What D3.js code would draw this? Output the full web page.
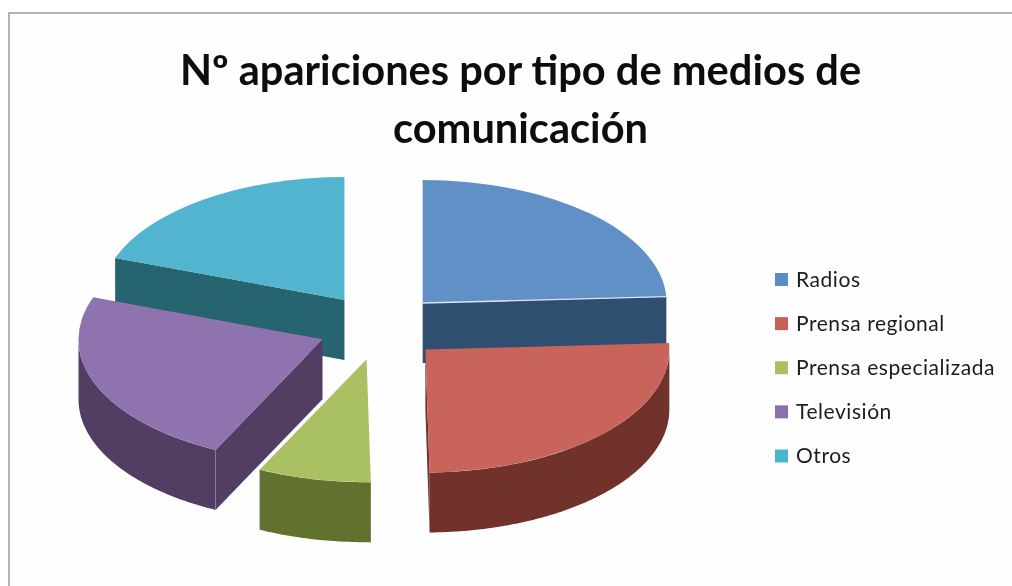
<!DOCTYPE html>
<html lang="es">
<head>
<meta charset="utf-8">
<title>Nº apariciones por tipo de medios de comunicación</title>
<script src="https://cdn.jsdelivr.net/npm/d3@7"></script>
<style>
html,body{margin:0;padding:0;background:#fff;overflow:hidden;}
svg{display:block;filter:blur(0.45px);}
text{font-family:Lato,"Open Sans",sans-serif;fill:#1c1c1c;}
</style>
</head>
<body>
<svg id="chart" width="1012" height="586"></svg>
<script>
const categories = ["Radios","Prensa regional","Prensa especializada","Televisión","Otros"];
const values = [87,92,27,84,70];
const topColors = ["#6090c5","#c9645a","#a9c163","#8f73ae","#53b4cf"];
const wallColors = ["#2f4f70","#72322c","#61722f","#523e62","#26646f"];
const legendColors = ["#5a8dc6","#c95f5a","#a9c163","#8c70ad","#4bb4cf"];
const titleLines = ["Nº apariciones por tipo de medios de","comunicación"];
const drawOrder = [4,0,3,2,1];

const W = 1012, H = 586;
const cx = 380, cy = 327, rx = 244, tilt = 0.504, depth = 60;
const explodeX = 62, explodeY = 33;

const svg = d3.select("#chart");
svg.append("rect").attr("x",9).attr("y",13).attr("width",W+20).attr("height",H+20)
  .attr("fill","#fefefe").attr("stroke","#a5a09c").attr("stroke-width",1.6);

const color = d3.scaleOrdinal(categories, topColors);
const wall = d3.scaleOrdinal(categories, wallColors);
const swatch = d3.scaleOrdinal(categories, legendColors);

const arcs = d3.pie().sort(null).value(d => d.value)(categories.map((c,i)=>({name:c,value:values[i]})));
const arcGen = d3.arc().innerRadius(0).outerRadius(rx);
const line = d3.line();
const half = Math.PI/2;

const pie = svg.append("g");
drawOrder.forEach(i => {
  const a = arcs[i], mid = (a.startAngle+a.endAngle)/2;
  const ax = cx + explodeX*Math.sin(mid), ay = cy - explodeY*Math.cos(mid);
  const px = t => [ax + rx*Math.sin(t), ay - rx*tilt*Math.cos(t)];
  const g = pie.append("g").attr("class","slice");
  const fw = wall(a.data.name);

  const radial = t => {
    const e = px(t);
    return line([[ax,ay],e,[e[0],e[1]+depth],[ax,ay+depth]])+"Z";
  };
  if (Math.sin(a.startAngle) < -0.01)
    g.append("path").attr("d",radial(a.startAngle)).attr("fill",fw);
  if (Math.sin(a.endAngle) > 0.01)
    g.append("path").attr("d",radial(a.endAngle)).attr("fill",fw);

  const from = Math.max(a.startAngle, half), to = Math.min(a.endAngle, 3*half);
  if (to > from) {
    const ts = d3.range(from, to, 0.01).concat([to]);
    const upper = ts.map(px);
    const lower = upper.map(p=>[p[0],p[1]+depth]).reverse();
    g.append("path").attr("d",line(upper.concat(lower))+"Z").attr("fill",fw);
  }

  g.append("path").attr("d",arcGen(a))
    .attr("transform",`translate(${ax},${ay}) scale(1,${tilt})`)
    .attr("fill",color(a.data.name));

  if (i === 0)
    g.append("path").attr("d",line([[ax,ay],px(a.endAngle)]))
      .attr("stroke","#d8e6f4").attr("stroke-width",1.4).attr("fill","none");
  if (i === 3) {
    const e = px(a.startAngle);
    g.append("path").attr("d",line([e,[e[0],e[1]+depth]]))
      .attr("stroke","#8b7a9c").attr("stroke-width",1).attr("fill","none");
  }
});

svg.append("g").selectAll("text").data(titleLines).join("text")
  .attr("x",520.5).attr("y",(d,i)=>85+i*58)
  .attr("text-anchor","middle")
  .attr("font-size",41.6).attr("font-weight",700)
  .style("fill","#0d0d0d")
  .text(d=>d);

const ly = d3.scalePoint().domain(categories).range([279.5,456]);
const leg = svg.append("g").selectAll("g").data(categories).join("g")
  .attr("transform",d=>`translate(775,${ly(d)})`);
leg.append("rect").attr("x",0).attr("y",-6.5).attr("width",13).attr("height",13).attr("fill",d=>swatch(d));
leg.append("text").attr("x",21).attr("y",7).attr("font-size",21)
  .attr("letter-spacing",0.55).text(d=>d);
</script>
</body>
</html>
